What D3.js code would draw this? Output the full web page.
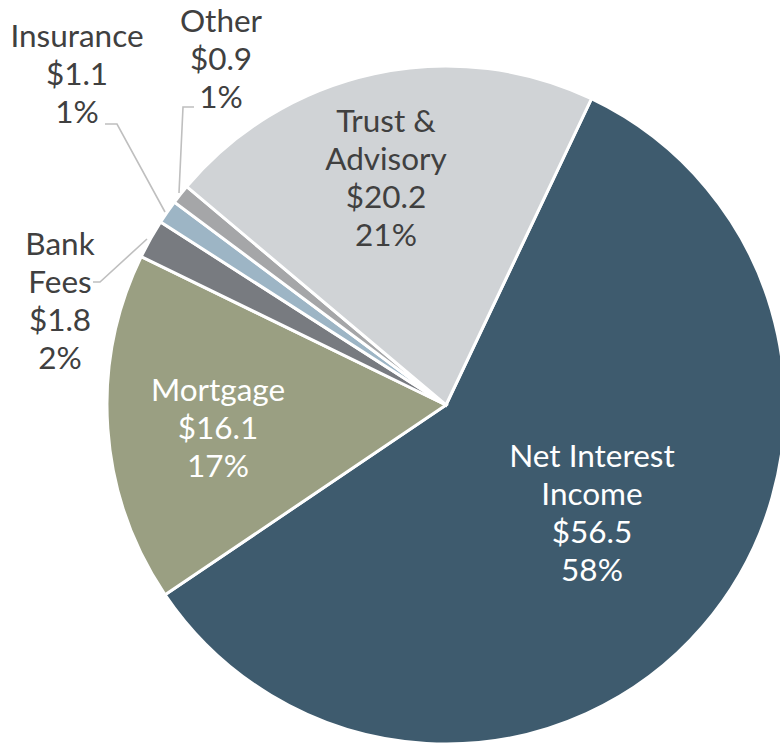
<!DOCTYPE html>
<html>
<head>
<meta charset="utf-8">
<script src="https://cdn.jsdelivr.net/npm/d3@7"></script>
<style>
  html, body { margin: 0; padding: 0; background: #fff; }
  svg { display: block; }
  text { font-family: Lato, "Open Sans", sans-serif; }
</style>
</head>
<body>
<svg id="chart" width="780" height="744"></svg>
<script>
// Revenue mix ($ millions), in clockwise order from the top-right
const categories = ["Net Interest Income", "Mortgage", "Bank Fees", "Insurance", "Other", "Trust & Advisory"];
const values = [56.5, 16.1, 1.8, 1.1, 0.9, 20.2];
const labelLines = [
  ["Net Interest", "Income"],
  ["Mortgage"],
  ["Bank", "Fees"],
  ["Insurance"],
  ["Other"],
  ["Trust &", "Advisory"]
];
const colors = ["#3e5b6e", "#9a9f82", "#787b80", "#9db5c5", "#a5a6a8", "#d0d3d6"];

// Layout
const W = 780, H = 744;
const cx = 446, cy = 405, R = 339;
const startDeg = 25.4;
const lineH = 38;

// Label anchors: x centre, baseline of first line, text colour
const labelLayout = {
  "Net Interest Income": { x: 592, y: 467, fill: "#ffffff" },
  "Mortgage":            { x: 218, y: 401, fill: "#ffffff" },
  "Bank Fees":           { x: 60,  y: 255, fill: "#404040" },
  "Insurance":           { x: 77,  y: 47,  fill: "#404040" },
  "Other":               { x: 221, y: 32,  fill: "#404040" },
  "Trust & Advisory":    { x: 386, y: 132, fill: "#404040" }
};
// Leader lines for the small outside slices
const leaders = {
  "Bank Fees": [[93, 282], [100, 282], [147, 239]],
  "Insurance": [[105, 124], [117, 124], [165, 212]],
  "Other":     [[194, 107], [183, 107], [179, 193]]
};

const data = categories.map((c, i) => ({ name: c, value: values[i], lines: labelLines[i], color: colors[i] }));
const total = d3.sum(values);

const svg = d3.select("#chart");
const g = svg.append("g").attr("transform", `translate(${cx},${cy})`);

const start = startDeg * Math.PI / 180;
const pie = d3.pie().value(d => d.value).sort(null)
  .startAngle(start).endAngle(start + 2 * Math.PI);
const arc = d3.arc().innerRadius(0).outerRadius(R);

g.selectAll("path.slice")
  .data(pie(data))
  .join("path")
  .attr("class", "slice")
  .attr("d", arc)
  .attr("fill", d => d.data.color)
  .attr("stroke", "#ffffff")
  .attr("stroke-width", 3)
  .attr("stroke-linejoin", "miter");

// Leader lines
const line = d3.line();
Object.entries(leaders).forEach(([k, pts]) => {
  svg.append("path")
    .attr("d", line(pts))
    .attr("fill", "none")
    .attr("stroke", "#bfbfbf")
    .attr("stroke-width", 1.6);
});

// Labels: name lines, value, percent share
const fmtVal = d3.format("$.1f");
data.forEach(d => {
  const p = labelLayout[d.name];
  const rows = d.lines.concat([fmtVal(d.value), Math.round(d.value / total * 100) + "%"]);
  const t = svg.append("text")
    .attr("x", p.x)
    .attr("y", p.y)
    .attr("text-anchor", "middle")
    .attr("font-size", 31.5)
    .attr("fill", p.fill);
  rows.forEach((r, i) => {
    t.append("tspan")
      .attr("x", p.x)
      .attr("y", p.y + i * lineH)
      .text(r);
  });
});
</script>
</body>
</html>
